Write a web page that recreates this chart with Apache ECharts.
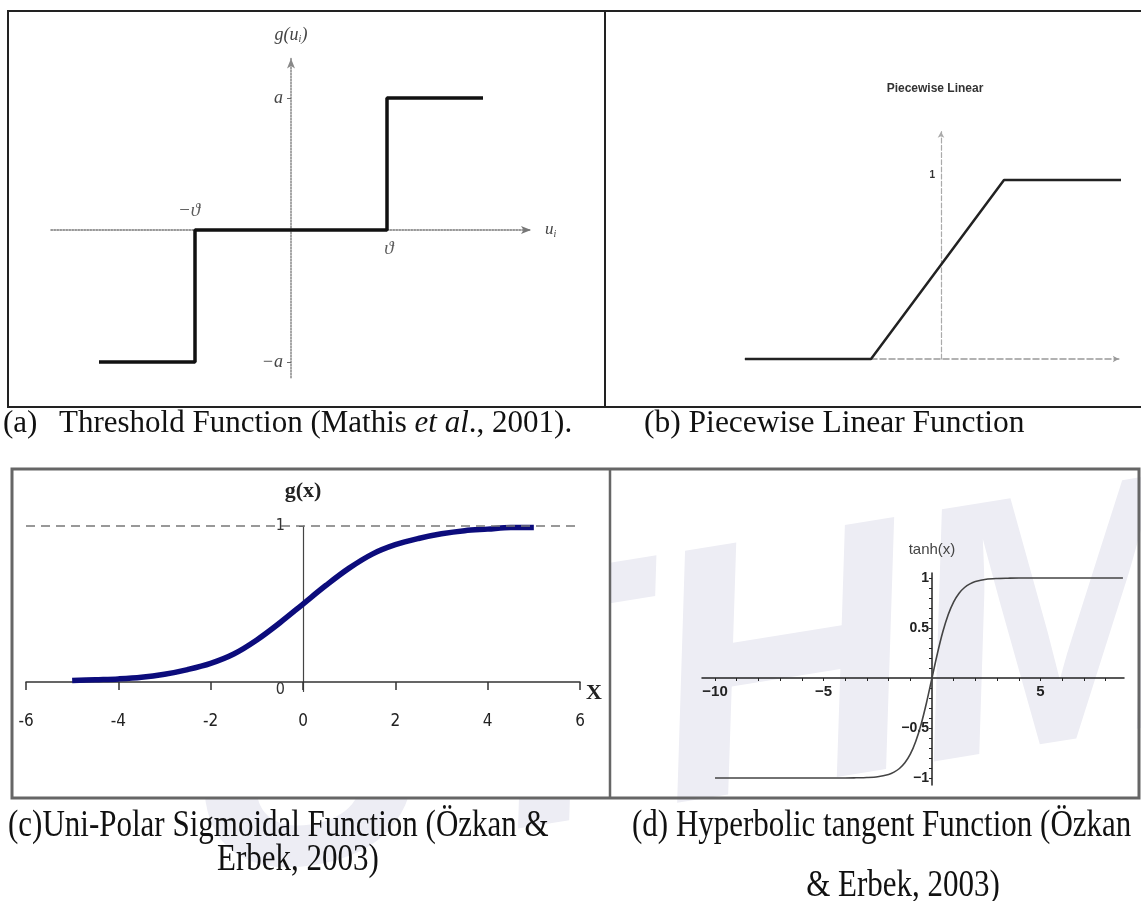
<!DOCTYPE html>
<html>
<head>
<meta charset="utf-8">
<title>Activation functions</title>
<script src="https://cdn.jsdelivr.net/npm/echarts@6.0.0/dist/echarts.min.js"></script>
<style>
  html, body { margin: 0; padding: 0; background: #fff; }
  #chart { width: 1141px; height: 901px; }
</style>
</head>
<body>
<div id="chart"></div>
<script>
// (a) threshold function
var stepX = [-2, -1, -1, 1, 1, 2];
var stepY = [-1, -1, 0, 0, 1, 1];
var thetaX = [-1, 1];
var thetaY = [0, 0];
var thetaLabels = ['\u2212\u03D1', '\u03D1'];

// (b) piecewise linear
var rampX = [-1.4, -0.5, 0.45, 1.35];
var rampY = [0, 0, 1, 1];

// (c) uni-polar sigmoid
var sigX = [-5, -4.5, -4, -3.5, -3, -2.5, -2, -1.5, -1, -0.5, 0, 0.5, 1, 1.5, 2, 2.5, 3, 3.5, 4, 4.5, 5];
var sigY = [0.01, 0.015, 0.02, 0.03, 0.05, 0.08, 0.12, 0.18, 0.27, 0.38, 0.5, 0.62, 0.73, 0.82, 0.88, 0.92, 0.95, 0.97, 0.98, 0.99, 0.99];

// (d) hyperbolic tangent
var tanhX = [-10, -6, -4, -3.5, -3, -2.5, -2, -1.75, -1.5, -1.25, -1, -0.75, -0.5, -0.25, 0,
             0.25, 0.5, 0.75, 1, 1.25, 1.5, 1.75, 2, 2.5, 3, 3.5, 4, 6, 8.8];
var tanhY = [-1, -1, -1, -0.998, -0.995, -0.987, -0.964, -0.941, -0.905, -0.848, -0.762, -0.635, -0.462, -0.245, 0,
             0.245, 0.462, 0.635, 0.762, 0.848, 0.905, 0.941, 0.964, 0.987, 0.995, 0.998, 1, 1, 1];
var tanhXLabels = [-10, -5, 5];
var tanhYLabels = [-1, -0.5, 0.5, 1];
var tanhXTicks = [-10, -9, -8, -7, -6, -5, -4, -3, -2, -1, 1, 2, 3, 4, 5, 6, 7, 8];
var tanhYTicks = [-1, -0.9, -0.8, -0.7, -0.6, -0.5, -0.4, -0.3, -0.2, -0.1, 0.1, 0.2, 0.3, 0.4, 0.5, 0.6, 0.7, 0.8, 0.9, 1];

function pairs(xs, ys) {
  return xs.map(function (x, i) { return [x, ys[i]]; });
}
function minus(v) {
  return String(v).replace('-', '\u2212');
}

var serif = 'Liberation Serif';
var sans = 'Liberation Sans';
var narrow = "'Liberation Sans Narrow', 'DejaVu Sans Condensed', 'Liberation Sans'";

var myChart = echarts.init(document.getElementById('chart'));

myChart.setOption({
  animation: false,
  backgroundColor: '#fff',
  grid: [
    { left: 51, top: 58.4, width: 480, height: 319.4 },
    { left: 745, top: 131.7, width: 373.8, height: 227.3 },
    { left: 26, top: 526, width: 554, height: 165.4 },
    { left: 702, top: 573, width: 422, height: 212 }
  ],
  xAxis: [
    {
      gridIndex: 0, type: 'value', min: -2.5, max: 2.5, offset: -147.8,
      axisLine: { onZero: false, symbol: ['none', 'arrow'], symbolSize: [6, 10],
        lineStyle: { type: 'dotted', color: '#777', width: 1.5 } },
      axisTick: { show: false }, axisLabel: { show: false }, splitLine: { show: false },
      name: 'u{s|i}', nameLocation: 'end', nameGap: 14,
      nameTextStyle: { fontFamily: serif, fontStyle: 'italic', fontSize: 17, color: '#444',
        rich: { s: { fontSize: 10, fontStyle: 'italic', fontFamily: serif, color: '#444', padding: [8, 0, 0, 0] } } }
    },
    {
      gridIndex: 1, type: 'value', min: -1.4, max: 1.27,
      axisLine: { onZero: false, symbol: ['none', 'arrow'], symbolSize: [5, 6],
        lineStyle: { type: 'dashed', color: '#999', width: 1.5 } },
      axisTick: { show: false }, axisLabel: { show: false }, splitLine: { show: false }
    },
    {
      gridIndex: 2, type: 'value', min: -6, max: 6, interval: 2, offset: -9.4,
      axisLine: { onZero: false, lineStyle: { color: '#333', width: 1.5 } },
      axisTick: { show: true, length: 8, lineStyle: { color: '#333', width: 1.5 } },
      axisLabel: { margin: 31, fontFamily: narrow, fontSize: 17, color: '#222' },
      splitLine: { show: false },
      name: 'X', nameLocation: 'end', nameGap: 6,
      nameTextStyle: { fontFamily: serif, fontWeight: 'bold', fontSize: 22, color: '#222', verticalAlign: 'top' }
    },
    {
      gridIndex: 3, type: 'value', min: -10.6, max: 8.85, offset: -107,
      axisLine: { onZero: false, lineStyle: { color: '#222', width: 1.5 } },
      axisTick: { show: true, customValues: tanhXTicks, length: 3, lineStyle: { color: '#222' } },
      axisLabel: { customValues: tanhXLabels, formatter: minus, margin: 6,
        fontFamily: sans, fontWeight: 'bold', fontSize: 15, color: '#222' },
      splitLine: { show: false }
    }
  ],
  yAxis: [
    {
      gridIndex: 0, type: 'value', min: -1.12, max: 1.3, offset: -240,
      axisLine: { onZero: false, symbol: ['none', 'arrow'], symbolSize: [6, 10],
        lineStyle: { type: 'dotted', color: '#888', width: 1.5 } },
      axisTick: { show: true, customValues: [-1, 1], length: 4, lineStyle: { color: '#666' } },
      axisLabel: { customValues: [-1, 1], margin: 8,
        formatter: function (v) { return v > 0 ? 'a' : '\u2212a'; },
        fontFamily: serif, fontStyle: 'italic', fontSize: 18, color: '#444' },
      splitLine: { show: false },
      name: 'g(u{s|i})', nameLocation: 'end', nameGap: 14,
      nameTextStyle: { fontFamily: serif, fontStyle: 'italic', fontSize: 18, color: '#444',
        rich: { s: { fontSize: 10, fontStyle: 'italic', fontFamily: serif, color: '#444', padding: [8, 0, 0, 0] } } }
    },
    {
      gridIndex: 1, type: 'value', min: 0, max: 1.27, offset: -196,
      axisLine: { onZero: false, symbol: ['none', 'arrow'], symbolSize: [5, 6],
        lineStyle: { type: 'dashed', color: '#aaa', width: 1.2 } },
      axisTick: { show: false },
      axisLabel: { customValues: [1], margin: 6, verticalAlign: 'bottom',
        fontFamily: sans, fontWeight: 'bold', fontSize: 10, color: '#333' },
      splitLine: { show: false }
    },
    {
      gridIndex: 2, type: 'value', min: -0.06, max: 1, offset: -277,
      axisLine: { onZero: false, lineStyle: { color: '#444', width: 1.2 } },
      axisTick: { show: true, customValues: [1], length: 4, lineStyle: { color: '#444' } },
      axisLabel: { customValues: [0, 1], margin: 18,
        formatter: function (v) { return v === 0 ? '{z|0}' : String(v); },
        rich: { z: { fontFamily: narrow, fontSize: 16, color: '#333', padding: [16, 0, 0, 0] } },
        fontFamily: narrow, fontSize: 16, color: '#333' },
      splitLine: { show: false },
      name: 'g(x)', nameLocation: 'end', nameGap: 24,
      nameTextStyle: { fontFamily: serif, fontWeight: 'bold', fontSize: 22, color: '#222' }
    },
    {
      gridIndex: 3, type: 'value', min: -1.07, max: 1.05, offset: -230,
      axisLine: { onZero: false, lineStyle: { color: '#222', width: 1.5 } },
      axisTick: { show: true, customValues: tanhYTicks, length: 3, lineStyle: { color: '#222' } },
      axisLabel: { customValues: tanhYLabels, formatter: minus, margin: 3,
        fontFamily: sans, fontWeight: 'bold', fontSize: 14, color: '#222' },
      splitLine: { show: false },
      name: 'tanh(x)', nameLocation: 'end', nameGap: 16,
      nameTextStyle: { fontFamily: sans, fontSize: 15, color: '#444' }
    }
  ],
  series: [
    {
      type: 'line', xAxisIndex: 0, yAxisIndex: 0, symbol: 'none',
      data: pairs(stepX, stepY),
      lineStyle: { color: '#111', width: 3.5 }
    },
    {
      type: 'scatter', xAxisIndex: 0, yAxisIndex: 0, symbolSize: 1,
      itemStyle: { color: 'rgba(0,0,0,0)' },
      data: pairs(thetaX, thetaY).map(function (p, i) {
        return { value: p, label: {
          show: true, formatter: thetaLabels[i],
          position: i === 0 ? 'top' : 'bottom',
          offset: i === 0 ? [-6, -4] : [2, 4],
          fontFamily: serif, fontStyle: 'italic', fontSize: 19, color: '#333' } };
      })
    },
    {
      type: 'line', xAxisIndex: 1, yAxisIndex: 1, symbol: 'none', clip: false,
      data: pairs(rampX, rampY),
      lineStyle: { color: '#222', width: 2.5 }
    },
    {
      type: 'line', xAxisIndex: 2, yAxisIndex: 2, symbol: 'none', smooth: 0.35,
      data: pairs(sigX, sigY),
      lineStyle: { color: '#0c0c7c', width: 5.5 },
      markLine: {
        silent: true, symbol: ['none', 'none'], label: { show: false },
        lineStyle: { type: [9, 6], color: '#777', width: 1.5 },
        data: [{ yAxis: 1 }]
      }
    },
    {
      type: 'line', xAxisIndex: 3, yAxisIndex: 3, symbol: 'none', smooth: 0.3,
      data: pairs(tanhX, tanhY),
      lineStyle: { color: '#444', width: 1.6 }
    }
  ],
  graphic: [
    { type: 'text', z: -20, x: 210, y: 960, rotation: 0.16, silent: true,
      style: { text: 'UTHM', fontSize: 360, fontWeight: 'bold', fontStyle: 'italic',
        fontFamily: sans, fill: '#ededf4', textVerticalAlign: 'bottom' } },
    { type: 'rect', z: -15, silent: true, shape: { x: 13, y: 470, width: 596, height: 327 },
      style: { fill: '#fff' } },
    { type: 'rect', z: 100, shape: { x: 8, y: 11, width: 1150, height: 396 },
      style: { fill: 'none', stroke: '#222', lineWidth: 2 } },
    { type: 'line', z: 100, shape: { x1: 605, y1: 11, x2: 605, y2: 407 },
      style: { stroke: '#222', lineWidth: 2 } },
    { type: 'rect', z: 100, shape: { x: 12, y: 469, width: 1127, height: 329 },
      style: { fill: 'none', stroke: '#666', lineWidth: 3 } },
    { type: 'line', z: 100, shape: { x1: 610, y1: 469, x2: 610, y2: 798 },
      style: { stroke: '#666', lineWidth: 2.5 } },
    { type: 'text', z: 100, x: 935, y: 89,
      style: { text: 'Piecewise Linear', fontFamily: sans, fontWeight: 'bold', fontSize: 12,
        fill: '#333', align: 'center', verticalAlign: 'middle' } },
    { type: 'text', z: 100, x: 3, y: 424,
      style: { text: '(a)', fontFamily: serif, fontSize: 31, fill: '#111', verticalAlign: 'middle' } },
    { type: 'text', z: 100, x: 59, y: 424,
      style: { text: 'Threshold Function (Mathis {i|et al}., 2001).', fontFamily: serif, fontSize: 31,
        fill: '#111', verticalAlign: 'middle',
        rich: { i: { fontFamily: serif, fontSize: 31, fontStyle: 'italic', fill: '#111' } } } },
    { type: 'text', z: 100, x: 644, y: 424,
      style: { text: '(b) Piecewise Linear Function', fontFamily: serif, fontSize: 31.5,
        fill: '#111', verticalAlign: 'middle' } },
    { type: 'text', z: 100, x: 8, y: 826, scaleY: 1.2,
      style: { text: '(c)Uni-Polar Sigmoidal Function (\u00D6zkan &', fontFamily: serif, fontSize: 31,
        fill: '#111', verticalAlign: 'middle' } },
    { type: 'text', z: 100, x: 298, y: 860, scaleY: 1.2,
      style: { text: 'Erbek, 2003)', fontFamily: serif, fontSize: 31,
        fill: '#111', align: 'center', verticalAlign: 'middle' } },
    { type: 'text', z: 100, x: 632, y: 826, scaleY: 1.2,
      style: { text: '(d) Hyperbolic tangent Function (\u00D6zkan', fontFamily: serif, fontSize: 31,
        fill: '#111', verticalAlign: 'middle' } },
    { type: 'text', z: 100, x: 903, y: 886, scaleY: 1.2,
      style: { text: '& Erbek, 2003)', fontFamily: serif, fontSize: 31,
        fill: '#111', align: 'center', verticalAlign: 'middle' } }
  ]
});
</script>
</body>
</html>
